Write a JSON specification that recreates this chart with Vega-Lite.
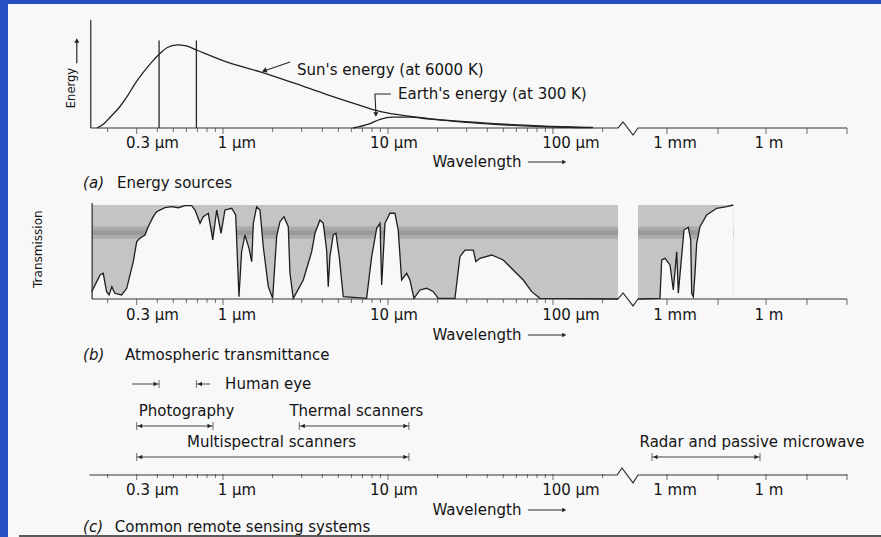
{
"$schema":"https://vega.github.io/schema/vega-lite/v6.json",
"width":873,"height":533,
"autosize":{"type":"none"},
"padding":{"left":8,"top":4,"right":0,"bottom":0},
"background":"#2450c4",
"config":{"view":{"fill":"#f8f8f8","stroke":null},"text":{"font":"DejaVu Sans","fontSize":15,"color":"#141414","baseline":"middle"},"line":{"color":"#222"},"rule":{"color":"#2a2a2a"},"tick":{"color":"#333","thickness":1},"point":{"color":"#222","filled":true,"opacity":1,"strokeWidth":0}},
"datasets":{
"ticks":[{"wl":0.2,"major":false},{"wl":0.3,"major":true},{"wl":0.4,"major":false},{"wl":0.5,"major":false},{"wl":0.6,"major":false},{"wl":0.7,"major":false},{"wl":0.8,"major":false},{"wl":0.9,"major":false},{"wl":1,"major":true},{"wl":2,"major":false},{"wl":3,"major":false},{"wl":4,"major":false},{"wl":5,"major":false},{"wl":6,"major":false},{"wl":7,"major":false},{"wl":8,"major":false},{"wl":9,"major":false},{"wl":10,"major":true},{"wl":20,"major":false},{"wl":30,"major":false},{"wl":40,"major":false},{"wl":50,"major":false},{"wl":60,"major":false},{"wl":70,"major":false},{"wl":80,"major":false},{"wl":90,"major":false},{"wl":100,"major":true},{"wl":200,"major":false},{"wl":1000,"major":true},{"wl":10000,"major":true},{"wl":1000000,"major":true},{"wl":10000000,"major":true},{"wl":100000000,"major":true}],
"labels":[{"at":0.374,"label":"0.3 µm"},{"at":1.216,"label":"1 µm"},{"at":10.87,"label":"10 µm"},{"at":128.5,"label":"100 µm"},{"at":1435,"label":"1 mm"},{"at":1180000,"label":"1 m"}],
"axis_a":[{"wl":0.158,"v":0},{"wl":248,"v":0},{"wl":284,"v":0.056},{"wl":378,"v":-0.065},{"wl":436,"v":0},{"wl":100000000,"v":0}],
"axis_b":[{"wl":0.161,"v":0},{"wl":248,"v":0},{"wl":284,"v":0.064},{"wl":378,"v":-0.074},{"wl":436,"v":0},{"wl":100000000,"v":0}],
"axis_c":[{"wl":0.155,"v":0},{"wl":245,"v":0},{"wl":275,"v":0.39},{"wl":378,"v":-0.44},{"wl":436,"v":0},{"wl":100000000,"v":0}],
"sun":[{"wl":0.172,"e":0},{"wl":0.19,"e":0.04},{"wl":0.207,"e":0.1},{"wl":0.235,"e":0.19},{"wl":0.262,"e":0.29},{"wl":0.29,"e":0.4},{"wl":0.327,"e":0.51},{"wl":0.37,"e":0.61},{"wl":0.415,"e":0.69},{"wl":0.46,"e":0.745},{"wl":0.526,"e":0.77},{"wl":0.6,"e":0.76},{"wl":0.696,"e":0.72},{"wl":1.06,"e":0.61},{"wl":1.68,"e":0.52},{"wl":2.65,"e":0.42},{"wl":4.27,"e":0.31},{"wl":6.77,"e":0.21},{"wl":8.58,"e":0.16},{"wl":10.7,"e":0.13},{"wl":17.2,"e":0.09},{"wl":36.1,"e":0.05},{"wl":83.4,"e":0.02},{"wl":175,"e":0.005}],
"earth":[{"wl":6.14,"e":0},{"wl":7.78,"e":0.04},{"wl":8.95,"e":0.08},{"wl":10.7,"e":0.1},{"wl":13.6,"e":0.1},{"wl":17.2,"e":0.085},{"wl":36.1,"e":0.042},{"wl":83.4,"e":0.014},{"wl":175,"e":0.003}],
"trans":[
{"seg":"L","wl":0.16,"t":0.078},{"seg":"L","wl":0.18,"t":0.255},{"seg":"L","wl":0.188,"t":0.273},{"seg":"L","wl":0.197,"t":0.078},{"seg":"L","wl":0.204,"t":0.043},{"seg":"L","wl":0.212,"t":0.131},{"seg":"L","wl":0.221,"t":0.061},{"seg":"L","wl":0.243,"t":0.043},{"seg":"L","wl":0.261,"t":0.114},{"seg":"L","wl":0.273,"t":0.255},{"seg":"L","wl":0.286,"t":0.397},{"seg":"L","wl":0.3,"t":0.61},{"seg":"L","wl":0.314,"t":0.646},{"seg":"L","wl":0.337,"t":0.681},{"seg":"L","wl":0.352,"t":0.769},{"seg":"L","wl":0.378,"t":0.876},{"seg":"L","wl":0.396,"t":0.929},{"seg":"L","wl":0.445,"t":0.971},{"seg":"L","wl":0.489,"t":0.982},{"seg":"L","wl":0.536,"t":0.971},{"seg":"L","wl":0.588,"t":0.993},{"seg":"L","wl":0.646,"t":0.993},{"seg":"L","wl":0.677,"t":0.947},{"seg":"L","wl":0.726,"t":0.805},{"seg":"L","wl":0.76,"t":0.876},{"seg":"L","wl":0.815,"t":0.912},{"seg":"L","wl":0.867,"t":0.628},{"seg":"L","wl":0.916,"t":0.947},{"seg":"L","wl":0.973,"t":0.699},{"seg":"L","wl":1.028,"t":0.947},{"seg":"L","wl":1.129,"t":0.965},{"seg":"L","wl":1.194,"t":0.894},{"seg":"L","wl":1.25,"t":0.024},{"seg":"L","wl":1.297,"t":0.503},{"seg":"L","wl":1.359,"t":0.681},{"seg":"L","wl":1.438,"t":0.539},{"seg":"L","wl":1.493,"t":0.397},{"seg":"L","wl":1.527,"t":0.805},{"seg":"L","wl":1.6,"t":0.982},{"seg":"L","wl":1.676,"t":0.947},{"seg":"L","wl":1.755,"t":0.556},{"seg":"L","wl":1.882,"t":0.131},{"seg":"L","wl":2.0,"t":0.007},{"seg":"L","wl":2.115,"t":0.663},{"seg":"L","wl":2.214,"t":0.822},{"seg":"L","wl":2.343,"t":0.876},{"seg":"L","wl":2.488,"t":0.769},{"seg":"L","wl":2.546,"t":0.277},{"seg":"L","wl":2.667,"t":0.007},{"seg":"L","wl":3.067,"t":0.202},{"seg":"L","wl":3.449,"t":0.503},{"seg":"L","wl":3.611,"t":0.699},{"seg":"L","wl":3.87,"t":0.84},{"seg":"L","wl":4.055,"t":0.805},{"seg":"L","wl":4.248,"t":0.521},{"seg":"L","wl":4.347,"t":0.131},{"seg":"L","wl":4.448,"t":0.45},{"seg":"L","wl":4.659,"t":0.681},{"seg":"L","wl":4.839,"t":0.699},{"seg":"L","wl":5.066,"t":0.45},{"seg":"L","wl":5.358,"t":0.024},{"seg":"L","wl":7.425,"t":0.007},{"seg":"L","wl":7.962,"t":0.45},{"seg":"L","wl":8.543,"t":0.752},{"seg":"L","wl":8.95,"t":0.805},{"seg":"L","wl":9.16,"t":0.149},{"seg":"L","wl":9.59,"t":0.805},{"seg":"L","wl":10.28,"t":0.912},{"seg":"L","wl":11.02,"t":0.912},{"seg":"L","wl":11.54,"t":0.734},{"seg":"L","wl":12.1,"t":0.202},{"seg":"L","wl":12.98,"t":0.273},{"seg":"L","wl":13.59,"t":0.202},{"seg":"L","wl":14.38,"t":0.007},{"seg":"L","wl":15.63,"t":0.096},{"seg":"L","wl":17.17,"t":0.114},{"seg":"L","wl":18.83,"t":0.078},{"seg":"L","wl":20.18,"t":0.007},{"seg":"L","wl":25.47,"t":0.007},{"seg":"L","wl":27.3,"t":0.45},{"seg":"L","wl":29.3,"t":0.521},{"seg":"L","wl":32.9,"t":0.521},{"seg":"L","wl":34.1,"t":0.397},{"seg":"L","wl":36.1,"t":0.433},{"seg":"L","wl":42.5,"t":0.468},{"seg":"L","wl":50.0,"t":0.415},{"seg":"L","wl":57.4,"t":0.309},{"seg":"L","wl":66.1,"t":0.202},{"seg":"L","wl":74.3,"t":0.078},{"seg":"L","wl":83.4,"t":0.007},{"seg":"L","wl":248,"t":0},
{"seg":"R","wl":436,"t":0},{"seg":"R","wl":818,"t":0.007},{"seg":"R","wl":859,"t":0.415},{"seg":"R","wl":944,"t":0.433},{"seg":"R","wl":1146,"t":0.362},{"seg":"R","wl":1330,"t":0.096},{"seg":"R","wl":1550,"t":0.503},{"seg":"R","wl":1667,"t":0.061},{"seg":"R","wl":2154,"t":0.734},{"seg":"R","wl":2616,"t":0.763},{"seg":"R","wl":2917,"t":0.628},{"seg":"R","wl":3050,"t":0.061},{"seg":"R","wl":3280,"t":0.024},{"seg":"R","wl":3540,"t":0.273},{"seg":"R","wl":3822,"t":0.593},{"seg":"R","wl":4433,"t":0.769},{"seg":"R","wl":6000,"t":0.894},{"seg":"R","wl":9440,"t":0.965},{"seg":"R","wl":23040,"t":0.982},{"seg":"R","wl":43400,"t":1.0}],
"gray":[{"lo":0.161,"hi":248},{"lo":436,"hi":43400}],
"systems":[{"name":"Photography","lo":0.3,"hi":0.87,"row":2,"tx":0.601},{"name":"Thermal scanners","lo":2.9,"hi":13.4,"row":2,"tx":6.44},{"name":"Multispectral scanners","lo":0.3,"hi":13.4,"row":1,"tx":1.97},{"name":"Radar and passive microwave","lo":650,"hi":562000,"row":1,"tx":261000}],
"eye":[{"from":0.281,"to":0.41,"dir":"r"},{"from":0.834,"to":0.69,"dir":"l"}]
},
"layer":[
{"layer":[
{"data":{"name":"axis_a"},"mark":{"type":"line","strokeWidth":1.2,"color":"#333"},"encoding":{"x":{"field":"wl","type":"quantitative","scale":{"type":"log","domain":[0.05,250,1000,10000,1000000,10000000,100000000],"range":[0.33,610.6,659,710,758,799,839],"nice":false},"axis":null},"y":{"field":"v","type":"quantitative","scale":{"domain":[0,1],"range":[124,16],"nice":false,"zero":false},"axis":null}}},
{"data":{"values":[{"wl":0.158}]},"mark":{"type":"rule","strokeWidth":1.2},"encoding":{"x":{"field":"wl","type":"quantitative","scale":{"type":"log","domain":[0.05,250,1000,10000,1000000,10000000,100000000],"range":[0.33,610.6,659,710,758,799,839],"nice":false},"axis":null},"y":{"datum":0,"type":"quantitative","scale":{"domain":[0,1],"range":[124,16],"nice":false,"zero":false},"axis":null},"y2":{"datum":1}}},
{"data":{"name":"ticks"},"transform":[{"filter":"!datum.major"}],"mark":{"type":"tick","orient":"vertical","size":4,"yOffset":2},"encoding":{"x":{"field":"wl","type":"quantitative","scale":{"type":"log","domain":[0.05,250,1000,10000,1000000,10000000,100000000],"range":[0.33,610.6,659,710,758,799,839],"nice":false},"axis":null},"y":{"datum":0,"type":"quantitative","scale":{"domain":[0,1],"range":[124,16],"nice":false,"zero":false},"axis":null}}},
{"data":{"name":"ticks"},"transform":[{"filter":"datum.major"}],"mark":{"type":"tick","orient":"vertical","size":6,"yOffset":3},"encoding":{"x":{"field":"wl","type":"quantitative","scale":{"type":"log","domain":[0.05,250,1000,10000,1000000,10000000,100000000],"range":[0.33,610.6,659,710,758,799,839],"nice":false},"axis":null},"y":{"datum":0,"type":"quantitative","scale":{"domain":[0,1],"range":[124,16],"nice":false,"zero":false},"axis":null}}},
{"data":{"name":"labels"},"mark":{"type":"text","dy":15,"align":"center"},"encoding":{"x":{"field":"at","type":"quantitative","scale":{"type":"log","domain":[0.05,250,1000,10000,1000000,10000000,100000000],"range":[0.33,610.6,659,710,758,799,839],"nice":false},"axis":null},"y":{"datum":0,"type":"quantitative","scale":{"domain":[0,1],"range":[124,16],"nice":false,"zero":false},"axis":null},"text":{"field":"label"}}},
{"data":{"name":"sun"},"mark":{"type":"line","interpolate":"monotone","strokeWidth":1.3},"encoding":{"x":{"field":"wl","type":"quantitative","scale":{"type":"log","domain":[0.05,250,1000,10000,1000000,10000000,100000000],"range":[0.33,610.6,659,710,758,799,839],"nice":false},"axis":null},"y":{"field":"e","type":"quantitative","scale":{"domain":[0,1],"range":[124,16],"nice":false,"zero":false},"axis":null}}},
{"data":{"name":"earth"},"mark":{"type":"line","interpolate":"monotone","strokeWidth":1.3},"encoding":{"x":{"field":"wl","type":"quantitative","scale":{"type":"log","domain":[0.05,250,1000,10000,1000000,10000000,100000000],"range":[0.33,610.6,659,710,758,799,839],"nice":false},"axis":null},"y":{"field":"e","type":"quantitative","scale":{"domain":[0,1],"range":[124,16],"nice":false,"zero":false},"axis":null}}},
{"data":{"values":[{"wl":0.41},{"wl":0.69}]},"mark":{"type":"rule","strokeWidth":1.3},"encoding":{"x":{"field":"wl","type":"quantitative","scale":{"type":"log","domain":[0.05,250,1000,10000,1000000,10000000,100000000],"range":[0.33,610.6,659,710,758,799,839],"nice":false},"axis":null},"y":{"datum":0,"type":"quantitative","scale":{"domain":[0,1],"range":[124,16],"nice":false,"zero":false},"axis":null},"y2":{"datum":0.81}}},
{"data":{"values":[{"wl":2.55,"e":0.611,"wl2":1.75,"e2":0.525}]},"mark":{"type":"rule","strokeWidth":1.2},"encoding":{"x":{"field":"wl","type":"quantitative","scale":{"type":"log","domain":[0.05,250,1000,10000,1000000,10000000,100000000],"range":[0.33,610.6,659,710,758,799,839],"nice":false},"axis":null},"x2":{"field":"wl2"},"y":{"field":"e","type":"quantitative","scale":{"domain":[0,1],"range":[124,16],"nice":false,"zero":false},"axis":null},"y2":{"field":"e2"}}},
{"data":{"values":[{"wl":1.78,"e":0.53}]},"mark":{"type":"point","shape":"triangle-up","angle":250,"size":30},"encoding":{"x":{"field":"wl","type":"quantitative","scale":{"type":"log","domain":[0.05,250,1000,10000,1000000,10000000,100000000],"range":[0.33,610.6,659,710,758,799,839],"nice":false},"axis":null},"y":{"field":"e","type":"quantitative","scale":{"domain":[0,1],"range":[124,16],"nice":false,"zero":false},"axis":null}}},
{"data":{"values":[{"i":0,"wl":10.4,"e":0.315},{"i":1,"wl":8.34,"e":0.315},{"i":2,"wl":8.45,"e":0.13}]},"mark":{"type":"line","strokeWidth":1.1},"encoding":{"x":{"field":"wl","type":"quantitative","scale":{"type":"log","domain":[0.05,250,1000,10000,1000000,10000000,100000000],"range":[0.33,610.6,659,710,758,799,839],"nice":false},"axis":null},"y":{"field":"e","type":"quantitative","scale":{"domain":[0,1],"range":[124,16],"nice":false,"zero":false},"axis":null},"order":{"field":"i"}}},
{"data":{"values":[{"wl":8.45,"e":0.125}]},"mark":{"type":"point","shape":"triangle-down","size":26},"encoding":{"x":{"field":"wl","type":"quantitative","scale":{"type":"log","domain":[0.05,250,1000,10000,1000000,10000000,100000000],"range":[0.33,610.6,659,710,758,799,839],"nice":false},"axis":null},"y":{"field":"e","type":"quantitative","scale":{"domain":[0,1],"range":[124,16],"nice":false,"zero":false},"axis":null}}},
{"data":{"values":[{"wl":2.81,"e":0.54,"text":"Sun's energy (at 6000 K)"},{"wl":11.5,"e":0.315,"text":"Earth's energy (at 300 K)"}]},"mark":{"type":"text","align":"left"},"encoding":{"x":{"field":"wl","type":"quantitative","scale":{"type":"log","domain":[0.05,250,1000,10000,1000000,10000000,100000000],"range":[0.33,610.6,659,710,758,799,839],"nice":false},"axis":null},"y":{"field":"e","type":"quantitative","scale":{"domain":[0,1],"range":[124,16],"nice":false,"zero":false},"axis":null},"text":{"field":"text"}}},
{"data":{"values":[{"wl":0.1216,"e":0.37,"text":"Energy"}]},"mark":{"type":"text","angle":270,"fontSize":11.5,"align":"center"},"encoding":{"x":{"field":"wl","type":"quantitative","scale":{"type":"log","domain":[0.05,250,1000,10000,1000000,10000000,100000000],"range":[0.33,610.6,659,710,758,799,839],"nice":false},"axis":null},"y":{"field":"e","type":"quantitative","scale":{"domain":[0,1],"range":[124,16],"nice":false,"zero":false},"axis":null},"text":{"field":"text"}}},
{"data":{"values":[{"wl":0.13,"e":0.6,"e2":0.8}]},"mark":{"type":"rule","strokeWidth":1.2},"encoding":{"x":{"field":"wl","type":"quantitative","scale":{"type":"log","domain":[0.05,250,1000,10000,1000000,10000000,100000000],"range":[0.33,610.6,659,710,758,799,839],"nice":false},"axis":null},"y":{"field":"e","type":"quantitative","scale":{"domain":[0,1],"range":[124,16],"nice":false,"zero":false},"axis":null},"y2":{"field":"e2"}}},
{"data":{"values":[{"wl":0.13,"e":0.81}]},"mark":{"type":"point","shape":"triangle-up","size":26},"encoding":{"x":{"field":"wl","type":"quantitative","scale":{"type":"log","domain":[0.05,250,1000,10000,1000000,10000000,100000000],"range":[0.33,610.6,659,710,758,799,839],"nice":false},"axis":null},"y":{"field":"e","type":"quantitative","scale":{"domain":[0,1],"range":[124,16],"nice":false,"zero":false},"axis":null}}},
{"data":{"values":[{"wl":34.6,"text":"Wavelength"}]},"mark":{"type":"text","dy":34,"align":"center"},"encoding":{"x":{"field":"wl","type":"quantitative","scale":{"type":"log","domain":[0.05,250,1000,10000,1000000,10000000,100000000],"range":[0.33,610.6,659,710,758,799,839],"nice":false},"axis":null},"y":{"datum":0,"type":"quantitative","scale":{"domain":[0,1],"range":[124,16],"nice":false,"zero":false},"axis":null},"text":{"field":"text"}}},
{"data":{"values":[{"wl":70.5,"wl2":115}]},"mark":{"type":"rule","yOffset":34,"strokeWidth":1.1},"encoding":{"x":{"field":"wl","type":"quantitative","scale":{"type":"log","domain":[0.05,250,1000,10000,1000000,10000000,100000000],"range":[0.33,610.6,659,710,758,799,839],"nice":false},"axis":null},"x2":{"field":"wl2"},"y":{"datum":0,"type":"quantitative","scale":{"domain":[0,1],"range":[124,16],"nice":false,"zero":false},"axis":null}}},
{"data":{"values":[{"wl":117}]},"mark":{"type":"point","shape":"triangle-right","size":22,"yOffset":34},"encoding":{"x":{"field":"wl","type":"quantitative","scale":{"type":"log","domain":[0.05,250,1000,10000,1000000,10000000,100000000],"range":[0.33,610.6,659,710,758,799,839],"nice":false},"axis":null},"y":{"datum":0,"type":"quantitative","scale":{"domain":[0,1],"range":[124,16],"nice":false,"zero":false},"axis":null}}},
{"data":{"values":[{"wl":0.142,"text":"(a)"}]},"mark":{"type":"text","dy":55,"align":"left","fontStyle":"italic"},"encoding":{"x":{"field":"wl","type":"quantitative","scale":{"type":"log","domain":[0.05,250,1000,10000,1000000,10000000,100000000],"range":[0.33,610.6,659,710,758,799,839],"nice":false},"axis":null},"y":{"datum":0,"type":"quantitative","scale":{"domain":[0,1],"range":[124,16],"nice":false,"zero":false},"axis":null},"text":{"field":"text"}}},
{"data":{"values":[{"wl":0.228,"text":"Energy sources"}]},"mark":{"type":"text","dy":55,"align":"left"},"encoding":{"x":{"field":"wl","type":"quantitative","scale":{"type":"log","domain":[0.05,250,1000,10000,1000000,10000000,100000000],"range":[0.33,610.6,659,710,758,799,839],"nice":false},"axis":null},"y":{"datum":0,"type":"quantitative","scale":{"domain":[0,1],"range":[124,16],"nice":false,"zero":false},"axis":null},"text":{"field":"text"}}}
]},
{"layer":[
{"data":{"name":"gray"},"mark":{"type":"rect","color":"#c4c4c4"},"encoding":{"x":{"field":"lo","type":"quantitative","scale":{"type":"log","domain":[0.05,250,1000,10000,1000000,10000000,100000000],"range":[0.33,610.6,659,710,758,799,839],"nice":false},"axis":null},"x2":{"field":"hi"},"y":{"datum":0,"type":"quantitative","scale":{"domain":[0,1],"range":[295,201],"nice":false,"zero":false},"axis":null},"y2":{"datum":1}}},
{"data":{"name":"gray"},"mark":{"type":"rect","color":"#aaaaaa"},"encoding":{"x":{"field":"lo","type":"quantitative","scale":{"type":"log","domain":[0.05,250,1000,10000,1000000,10000000,100000000],"range":[0.33,610.6,659,710,758,799,839],"nice":false},"axis":null},"x2":{"field":"hi"},"y":{"datum":0.64,"type":"quantitative","scale":{"domain":[0,1],"range":[295,201],"nice":false,"zero":false},"axis":null},"y2":{"datum":0.77}}},
{"data":{"name":"gray"},"mark":{"type":"rect","color":"#999999"},"encoding":{"x":{"field":"lo","type":"quantitative","scale":{"type":"log","domain":[0.05,250,1000,10000,1000000,10000000,100000000],"range":[0.33,610.6,659,710,758,799,839],"nice":false},"axis":null},"x2":{"field":"hi"},"y":{"datum":0.68,"type":"quantitative","scale":{"domain":[0,1],"range":[295,201],"nice":false,"zero":false},"axis":null},"y2":{"datum":0.73}}},
{"data":{"name":"trans"},"mark":{"type":"area","color":"#f8f8f8","opacity":1},"encoding":{"x":{"field":"wl","type":"quantitative","scale":{"type":"log","domain":[0.05,250,1000,10000,1000000,10000000,100000000],"range":[0.33,610.6,659,710,758,799,839],"nice":false},"axis":null},"y":{"field":"t","type":"quantitative","scale":{"domain":[0,1],"range":[295,201],"nice":false,"zero":false},"axis":null},"detail":{"field":"seg"}}},
{"data":{"name":"trans"},"mark":{"type":"line","strokeWidth":1.3,"color":"#1e1e1e"},"encoding":{"x":{"field":"wl","type":"quantitative","scale":{"type":"log","domain":[0.05,250,1000,10000,1000000,10000000,100000000],"range":[0.33,610.6,659,710,758,799,839],"nice":false},"axis":null},"y":{"field":"t","type":"quantitative","scale":{"domain":[0,1],"range":[295,201],"nice":false,"zero":false},"axis":null},"detail":{"field":"seg"}}},
{"data":{"name":"axis_b"},"mark":{"type":"line","strokeWidth":1.2,"color":"#333"},"encoding":{"x":{"field":"wl","type":"quantitative","scale":{"type":"log","domain":[0.05,250,1000,10000,1000000,10000000,100000000],"range":[0.33,610.6,659,710,758,799,839],"nice":false},"axis":null},"y":{"field":"v","type":"quantitative","scale":{"domain":[0,1],"range":[295,201],"nice":false,"zero":false},"axis":null}}},
{"data":{"values":[{"wl":0.161}]},"mark":{"type":"rule","strokeWidth":1.2},"encoding":{"x":{"field":"wl","type":"quantitative","scale":{"type":"log","domain":[0.05,250,1000,10000,1000000,10000000,100000000],"range":[0.33,610.6,659,710,758,799,839],"nice":false},"axis":null},"y":{"datum":0,"type":"quantitative","scale":{"domain":[0,1],"range":[295,201],"nice":false,"zero":false},"axis":null},"y2":{"datum":1.02}}},
{"data":{"name":"ticks"},"transform":[{"filter":"!datum.major"}],"mark":{"type":"tick","orient":"vertical","size":4,"yOffset":2},"encoding":{"x":{"field":"wl","type":"quantitative","scale":{"type":"log","domain":[0.05,250,1000,10000,1000000,10000000,100000000],"range":[0.33,610.6,659,710,758,799,839],"nice":false},"axis":null},"y":{"datum":0,"type":"quantitative","scale":{"domain":[0,1],"range":[295,201],"nice":false,"zero":false},"axis":null}}},
{"data":{"name":"ticks"},"transform":[{"filter":"datum.major"}],"mark":{"type":"tick","orient":"vertical","size":6,"yOffset":3},"encoding":{"x":{"field":"wl","type":"quantitative","scale":{"type":"log","domain":[0.05,250,1000,10000,1000000,10000000,100000000],"range":[0.33,610.6,659,710,758,799,839],"nice":false},"axis":null},"y":{"datum":0,"type":"quantitative","scale":{"domain":[0,1],"range":[295,201],"nice":false,"zero":false},"axis":null}}},
{"data":{"name":"labels"},"mark":{"type":"text","dy":16,"align":"center"},"encoding":{"x":{"field":"at","type":"quantitative","scale":{"type":"log","domain":[0.05,250,1000,10000,1000000,10000000,100000000],"range":[0.33,610.6,659,710,758,799,839],"nice":false},"axis":null},"y":{"datum":0,"type":"quantitative","scale":{"domain":[0,1],"range":[295,201],"nice":false,"zero":false},"axis":null},"text":{"field":"label"}}},
{"data":{"values":[{"wl":34.6,"text":"Wavelength"}]},"mark":{"type":"text","dy":36,"align":"center"},"encoding":{"x":{"field":"wl","type":"quantitative","scale":{"type":"log","domain":[0.05,250,1000,10000,1000000,10000000,100000000],"range":[0.33,610.6,659,710,758,799,839],"nice":false},"axis":null},"y":{"datum":0,"type":"quantitative","scale":{"domain":[0,1],"range":[295,201],"nice":false,"zero":false},"axis":null},"text":{"field":"text"}}},
{"data":{"values":[{"wl":70.5,"wl2":115}]},"mark":{"type":"rule","yOffset":36,"strokeWidth":1.1},"encoding":{"x":{"field":"wl","type":"quantitative","scale":{"type":"log","domain":[0.05,250,1000,10000,1000000,10000000,100000000],"range":[0.33,610.6,659,710,758,799,839],"nice":false},"axis":null},"x2":{"field":"wl2"},"y":{"datum":0,"type":"quantitative","scale":{"domain":[0,1],"range":[295,201],"nice":false,"zero":false},"axis":null}}},
{"data":{"values":[{"wl":117}]},"mark":{"type":"point","shape":"triangle-right","size":22,"yOffset":36},"encoding":{"x":{"field":"wl","type":"quantitative","scale":{"type":"log","domain":[0.05,250,1000,10000,1000000,10000000,100000000],"range":[0.33,610.6,659,710,758,799,839],"nice":false},"axis":null},"y":{"datum":0,"type":"quantitative","scale":{"domain":[0,1],"range":[295,201],"nice":false,"zero":false},"axis":null}}},
{"data":{"values":[{"wl":0.142,"text":"(b)"}]},"mark":{"type":"text","dy":56,"align":"left","fontStyle":"italic"},"encoding":{"x":{"field":"wl","type":"quantitative","scale":{"type":"log","domain":[0.05,250,1000,10000,1000000,10000000,100000000],"range":[0.33,610.6,659,710,758,799,839],"nice":false},"axis":null},"y":{"datum":0,"type":"quantitative","scale":{"domain":[0,1],"range":[295,201],"nice":false,"zero":false},"axis":null},"text":{"field":"text"}}},
{"data":{"values":[{"wl":0.255,"text":"Atmospheric transmittance"}]},"mark":{"type":"text","dy":56,"align":"left"},"encoding":{"x":{"field":"wl","type":"quantitative","scale":{"type":"log","domain":[0.05,250,1000,10000,1000000,10000000,100000000],"range":[0.33,610.6,659,710,758,799,839],"nice":false},"axis":null},"y":{"datum":0,"type":"quantitative","scale":{"domain":[0,1],"range":[295,201],"nice":false,"zero":false},"axis":null},"text":{"field":"text"}}},
{"data":{"values":[{"wl":0.0757,"t":0.53,"text":"Transmission"}]},"mark":{"type":"text","angle":270,"fontSize":12,"align":"center"},"encoding":{"x":{"field":"wl","type":"quantitative","scale":{"type":"log","domain":[0.05,250,1000,10000,1000000,10000000,100000000],"range":[0.33,610.6,659,710,758,799,839],"nice":false},"axis":null},"y":{"field":"t","type":"quantitative","scale":{"domain":[0,1],"range":[295,201],"nice":false,"zero":false},"axis":null},"text":{"field":"text"}}}
]},
{"layer":[
{"data":{"name":"axis_c"},"mark":{"type":"line","strokeWidth":1.2,"color":"#333"},"encoding":{"x":{"field":"wl","type":"quantitative","scale":{"type":"log","domain":[0.05,250,1000,10000,1000000,10000000,100000000],"range":[0.33,610.6,659,710,758,799,839],"nice":false},"axis":null},"y":{"field":"v","type":"quantitative","scale":{"domain":[0,1,2,3],"range":[471,453,422,380],"nice":false,"zero":false},"axis":null}}},
{"data":{"values":[{"wl":0.058,"wl2":10000000000}]},"mark":{"type":"rule","strokeWidth":3,"color":"#5a5a5a"},"encoding":{"x":{"field":"wl","type":"quantitative","scale":{"type":"log","domain":[0.05,250,1000,10000,1000000,10000000,100000000],"range":[0.33,610.6,659,710,758,799,839],"nice":false},"axis":null},"x2":{"field":"wl2"},"y":{"datum":-3.42,"type":"quantitative","scale":{"domain":[0,1,2,3],"range":[471,453,422,380],"nice":false,"zero":false},"axis":null}}},
{"data":{"name":"ticks"},"transform":[{"filter":"!datum.major"}],"mark":{"type":"tick","orient":"vertical","size":4,"yOffset":1},"encoding":{"x":{"field":"wl","type":"quantitative","scale":{"type":"log","domain":[0.05,250,1000,10000,1000000,10000000,100000000],"range":[0.33,610.6,659,710,758,799,839],"nice":false},"axis":null},"y":{"datum":0,"type":"quantitative","scale":{"domain":[0,1,2,3],"range":[471,453,422,380],"nice":false,"zero":false},"axis":null}}},
{"data":{"name":"ticks"},"transform":[{"filter":"datum.major"}],"mark":{"type":"tick","orient":"vertical","size":6,"yOffset":2},"encoding":{"x":{"field":"wl","type":"quantitative","scale":{"type":"log","domain":[0.05,250,1000,10000,1000000,10000000,100000000],"range":[0.33,610.6,659,710,758,799,839],"nice":false},"axis":null},"y":{"datum":0,"type":"quantitative","scale":{"domain":[0,1,2,3],"range":[471,453,422,380],"nice":false,"zero":false},"axis":null}}},
{"data":{"name":"labels"},"mark":{"type":"text","dy":15,"align":"center"},"encoding":{"x":{"field":"at","type":"quantitative","scale":{"type":"log","domain":[0.05,250,1000,10000,1000000,10000000,100000000],"range":[0.33,610.6,659,710,758,799,839],"nice":false},"axis":null},"y":{"datum":0,"type":"quantitative","scale":{"domain":[0,1,2,3],"range":[471,453,422,380],"nice":false,"zero":false},"axis":null},"text":{"field":"label"}}},
{"data":{"values":[{"wl":34.6,"text":"Wavelength"}]},"mark":{"type":"text","dy":35,"align":"center"},"encoding":{"x":{"field":"wl","type":"quantitative","scale":{"type":"log","domain":[0.05,250,1000,10000,1000000,10000000,100000000],"range":[0.33,610.6,659,710,758,799,839],"nice":false},"axis":null},"y":{"datum":0,"type":"quantitative","scale":{"domain":[0,1,2,3],"range":[471,453,422,380],"nice":false,"zero":false},"axis":null},"text":{"field":"text"}}},
{"data":{"values":[{"wl":70.5,"wl2":115}]},"mark":{"type":"rule","yOffset":35,"strokeWidth":1.1},"encoding":{"x":{"field":"wl","type":"quantitative","scale":{"type":"log","domain":[0.05,250,1000,10000,1000000,10000000,100000000],"range":[0.33,610.6,659,710,758,799,839],"nice":false},"axis":null},"x2":{"field":"wl2"},"y":{"datum":0,"type":"quantitative","scale":{"domain":[0,1,2,3],"range":[471,453,422,380],"nice":false,"zero":false},"axis":null}}},
{"data":{"values":[{"wl":117}]},"mark":{"type":"point","shape":"triangle-right","size":22,"yOffset":35},"encoding":{"x":{"field":"wl","type":"quantitative","scale":{"type":"log","domain":[0.05,250,1000,10000,1000000,10000000,100000000],"range":[0.33,610.6,659,710,758,799,839],"nice":false},"axis":null},"y":{"datum":0,"type":"quantitative","scale":{"domain":[0,1,2,3],"range":[471,453,422,380],"nice":false,"zero":false},"axis":null}}},
{"data":{"values":[{"wl":0.142,"text":"(c)"}]},"mark":{"type":"text","dy":52,"align":"left","fontStyle":"italic"},"encoding":{"x":{"field":"wl","type":"quantitative","scale":{"type":"log","domain":[0.05,250,1000,10000,1000000,10000000,100000000],"range":[0.33,610.6,659,710,758,799,839],"nice":false},"axis":null},"y":{"datum":0,"type":"quantitative","scale":{"domain":[0,1,2,3],"range":[471,453,422,380],"nice":false,"zero":false},"axis":null},"text":{"field":"text"}}},
{"data":{"values":[{"wl":0.221,"text":"Common remote sensing systems"}]},"mark":{"type":"text","dy":52,"align":"left"},"encoding":{"x":{"field":"wl","type":"quantitative","scale":{"type":"log","domain":[0.05,250,1000,10000,1000000,10000000,100000000],"range":[0.33,610.6,659,710,758,799,839],"nice":false},"axis":null},"y":{"datum":0,"type":"quantitative","scale":{"domain":[0,1,2,3],"range":[471,453,422,380],"nice":false,"zero":false},"axis":null},"text":{"field":"text"}}},
{"data":{"name":"systems"},"mark":{"type":"rule","strokeWidth":1,"color":"#444"},"encoding":{"x":{"field":"lo","type":"quantitative","scale":{"type":"log","domain":[0.05,250,1000,10000,1000000,10000000,100000000],"range":[0.33,610.6,659,710,758,799,839],"nice":false},"axis":null},"x2":{"field":"hi"},"y":{"field":"row","type":"quantitative","scale":{"domain":[0,1,2,3],"range":[471,453,422,380],"nice":false,"zero":false},"axis":null}}},
{"data":{"name":"systems"},"mark":{"type":"tick","orient":"vertical","size":8},"encoding":{"x":{"field":"lo","type":"quantitative","scale":{"type":"log","domain":[0.05,250,1000,10000,1000000,10000000,100000000],"range":[0.33,610.6,659,710,758,799,839],"nice":false},"axis":null},"y":{"field":"row","type":"quantitative","scale":{"domain":[0,1,2,3],"range":[471,453,422,380],"nice":false,"zero":false},"axis":null}}},
{"data":{"name":"systems"},"mark":{"type":"tick","orient":"vertical","size":8},"encoding":{"x":{"field":"hi","type":"quantitative","scale":{"type":"log","domain":[0.05,250,1000,10000,1000000,10000000,100000000],"range":[0.33,610.6,659,710,758,799,839],"nice":false},"axis":null},"y":{"field":"row","type":"quantitative","scale":{"domain":[0,1,2,3],"range":[471,453,422,380],"nice":false,"zero":false},"axis":null}}},
{"data":{"name":"systems"},"mark":{"type":"point","shape":"triangle-left","size":22,"xOffset":3.5},"encoding":{"x":{"field":"lo","type":"quantitative","scale":{"type":"log","domain":[0.05,250,1000,10000,1000000,10000000,100000000],"range":[0.33,610.6,659,710,758,799,839],"nice":false},"axis":null},"y":{"field":"row","type":"quantitative","scale":{"domain":[0,1,2,3],"range":[471,453,422,380],"nice":false,"zero":false},"axis":null}}},
{"data":{"name":"systems"},"mark":{"type":"point","shape":"triangle-right","size":22,"xOffset":-3.5},"encoding":{"x":{"field":"hi","type":"quantitative","scale":{"type":"log","domain":[0.05,250,1000,10000,1000000,10000000,100000000],"range":[0.33,610.6,659,710,758,799,839],"nice":false},"axis":null},"y":{"field":"row","type":"quantitative","scale":{"domain":[0,1,2,3],"range":[471,453,422,380],"nice":false,"zero":false},"axis":null}}},
{"data":{"name":"systems"},"mark":{"type":"text","dy":-15.5,"align":"center"},"encoding":{"x":{"field":"tx","type":"quantitative","scale":{"type":"log","domain":[0.05,250,1000,10000,1000000,10000000,100000000],"range":[0.33,610.6,659,710,758,799,839],"nice":false},"axis":null},"y":{"field":"row","type":"quantitative","scale":{"domain":[0,1,2,3],"range":[471,453,422,380],"nice":false,"zero":false},"axis":null},"text":{"field":"name"}}},
{"data":{"name":"eye"},"mark":{"type":"rule","strokeWidth":1,"color":"#444"},"encoding":{"x":{"field":"from","type":"quantitative","scale":{"type":"log","domain":[0.05,250,1000,10000,1000000,10000000,100000000],"range":[0.33,610.6,659,710,758,799,839],"nice":false},"axis":null},"x2":{"field":"to"},"y":{"datum":3,"type":"quantitative","scale":{"domain":[0,1,2,3],"range":[471,453,422,380],"nice":false,"zero":false},"axis":null}}},
{"data":{"name":"eye"},"mark":{"type":"tick","orient":"vertical","size":8},"encoding":{"x":{"field":"to","type":"quantitative","scale":{"type":"log","domain":[0.05,250,1000,10000,1000000,10000000,100000000],"range":[0.33,610.6,659,710,758,799,839],"nice":false},"axis":null},"y":{"datum":3,"type":"quantitative","scale":{"domain":[0,1,2,3],"range":[471,453,422,380],"nice":false,"zero":false},"axis":null}}},
{"data":{"name":"eye"},"transform":[{"filter":"datum.dir === 'r'"}],"mark":{"type":"point","shape":"triangle-right","size":22,"xOffset":-3.5},"encoding":{"x":{"field":"to","type":"quantitative","scale":{"type":"log","domain":[0.05,250,1000,10000,1000000,10000000,100000000],"range":[0.33,610.6,659,710,758,799,839],"nice":false},"axis":null},"y":{"datum":3,"type":"quantitative","scale":{"domain":[0,1,2,3],"range":[471,453,422,380],"nice":false,"zero":false},"axis":null}}},
{"data":{"name":"eye"},"transform":[{"filter":"datum.dir === 'l'"}],"mark":{"type":"point","shape":"triangle-left","size":22,"xOffset":3.5},"encoding":{"x":{"field":"to","type":"quantitative","scale":{"type":"log","domain":[0.05,250,1000,10000,1000000,10000000,100000000],"range":[0.33,610.6,659,710,758,799,839],"nice":false},"axis":null},"y":{"datum":3,"type":"quantitative","scale":{"domain":[0,1,2,3],"range":[471,453,422,380],"nice":false,"zero":false},"axis":null}}},
{"data":{"values":[{"wl":1.03,"text":"Human eye"}]},"mark":{"type":"text","align":"left"},"encoding":{"x":{"field":"wl","type":"quantitative","scale":{"type":"log","domain":[0.05,250,1000,10000,1000000,10000000,100000000],"range":[0.33,610.6,659,710,758,799,839],"nice":false},"axis":null},"y":{"datum":3,"type":"quantitative","scale":{"domain":[0,1,2,3],"range":[471,453,422,380],"nice":false,"zero":false},"axis":null},"text":{"field":"text"}}}
]}
],
"resolve":{"scale":{"y":"independent"}}
}
